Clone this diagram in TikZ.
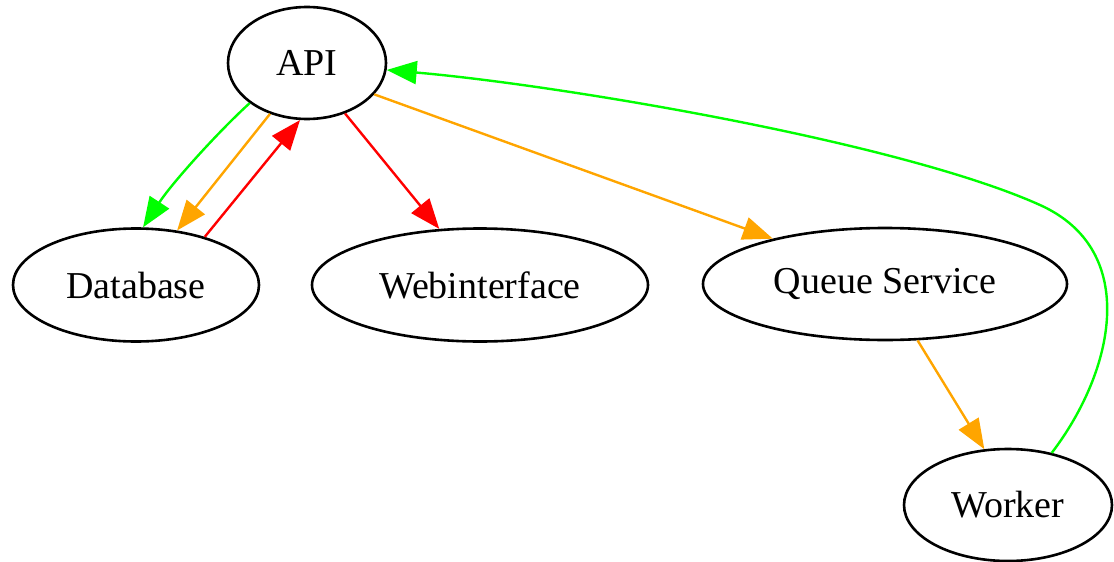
\documentclass[tikz,border=0pt]{standalone}
\usepackage{fontspec}
\setmainfont{Liberation Serif}
\usetikzlibrary{shapes.geometric,arrows.meta}

\definecolor{edgegreen}{HTML}{00FF00}
\definecolor{edgeorange}{HTML}{FFA500}
\definecolor{edgered}{HTML}{FF0000}

\tikzset{
  state/.style={ellipse, draw=black, line width=2.6pt, inner sep=0pt,
    font=\fontsize{38}{40}\selectfont},
  link/.style={line width=2.4pt,
    -{Triangle[length=30pt,width=23pt]}},
}

\begin{document}
\begin{tikzpicture}[x=1pt,y=-1pt]
  \useasboundingbox (0,0) rectangle (1114,562);

  % services
  \node[state, minimum width=158pt, minimum height=112pt] (api)  at (307,63)  {API};
  \node[state, minimum width=246pt, minimum height=113pt] (db)   at (136,285) {Database};
  \node[state, minimum width=336pt, minimum height=113pt] (web)  at (480,285) {Webinterface};
  \node[state, minimum width=364pt, minimum height=112pt] (queue) at (885,284) {Queue Service};
  \node[state, minimum width=208pt, minimum height=112pt] (work) at (1008,505) {Worker};

  % calls between services
  \draw[link, edgegreen] (api.215) .. controls (218,132) and (172,183) .. (db.83);
  \draw[link, edgeorange] (api.234) -- (db.53);
  \draw[link, edgered] (db.35) -- (api.263);
  \draw[link, edgered] (api.307) -- (web.126);
  \draw[link, edgeorange] (api.335) -- (queue.158);
  \draw[link, edgeorange] (queue.300) -- (work.113);
  \draw[link, edgegreen] (work.50) .. controls (1115,370) and (1140,250) .. (1040,205)
        .. controls (900,142) and (560,85) .. (api.355);
\end{tikzpicture}
\end{document}
